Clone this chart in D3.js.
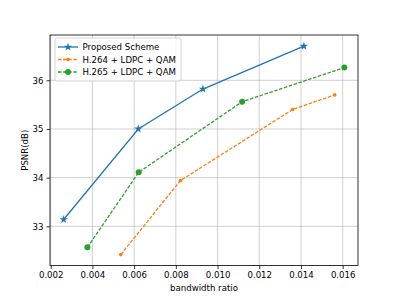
<!DOCTYPE html>
<html>
<head>
<meta charset="utf-8">
<script src="https://cdn.jsdelivr.net/npm/d3@7"></script>
<style>
  body { margin: 0; background: #fff; }
  svg text { font-family: "DejaVu Sans", sans-serif; fill: #000; }
</style>
</head>
<body>
<div id="chart"></div>
<script>
// data
const proposedX = [0.00262, 0.0062, 0.0093, 0.01414];
const proposedY = [33.14, 35.0, 35.82, 36.70];
const h264X = [0.00536, 0.00822, 0.0136, 0.01562];
const h264Y = [32.42, 33.94, 35.40, 35.70];
const h265X = [0.00376, 0.00622, 0.01118, 0.01608];
const h265Y = [32.57, 34.11, 35.56, 36.26];
const xTicks = [0.002, 0.004, 0.006, 0.008, 0.010, 0.012, 0.014, 0.016];
const yTicks = [33, 34, 35, 36];

const series = [
    {name: "Proposed Scheme", xs: proposedX, ys: proposedY, color: "#1f77b4", dash: null, marker: "star"},
    {name: "H.264 + LDPC + QAM", xs: h264X, ys: h264Y, color: "#ff7f0e", dash: "3.5,1.6", marker: "point"},
    {name: "H.265 + LDPC + QAM", xs: h265X, ys: h265Y, color: "#2ca02c", dash: "3.5,1.6", marker: "circle"}
];

const W = 398, H = 299;
const margin = {top: 35, right: 40, bottom: 33.5, left: 50};
const width = W - margin.left - margin.right;
const height = H - margin.top - margin.bottom;

const svg = d3.select("#chart").append("svg")
    .attr("width", W)
    .attr("height", H);

const g = svg.append("g")
    .attr("transform", `translate(${margin.left},${margin.top})`);

const x = d3.scaleLinear().domain([0.001966, 0.016735]).range([0, width]);
const y = d3.scaleLinear().domain([32.196, 36.93]).range([height, 0]);

// grid
g.append("g").selectAll("line")
    .data(xTicks).enter().append("line")
    .attr("x1", d => x(d)).attr("x2", d => x(d))
    .attr("y1", 0).attr("y2", height)
    .attr("stroke", "#b0b0b0").attr("stroke-opacity", 0.6).attr("stroke-width", 1);

g.append("g").selectAll("line")
    .data(yTicks).enter().append("line")
    .attr("x1", 0).attr("x2", width)
    .attr("y1", d => y(d)).attr("y2", d => y(d))
    .attr("stroke", "#b0b0b0").attr("stroke-opacity", 0.6).attr("stroke-width", 1);

// axes
const xAxis = g.append("g")
    .attr("transform", `translate(0,${height})`)
    .call(d3.axisBottom(x).tickValues(xTicks).tickFormat(d3.format(".3f")).tickSize(3.5).tickPadding(3));
const yAxis = g.append("g")
    .call(d3.axisLeft(y).tickValues(yTicks).tickFormat(d3.format("d")).tickSize(3.5).tickPadding(3));

[xAxis, yAxis].forEach(a => {
    a.select(".domain").remove();
    a.selectAll("text").style("font-size", "8.6px").attr("fill", "#000");
    a.selectAll("line").attr("stroke", "#000").attr("stroke-width", 0.8);
});

g.append("rect")
    .attr("width", width).attr("height", height)
    .attr("fill", "none").attr("stroke", "#000").attr("stroke-width", 0.8);

// labels
g.append("text")
    .attr("x", width / 2).attr("y", height + 25)
    .attr("text-anchor", "middle")
    .style("font-size", "8.6px")
    .text("bandwidth ratio");

g.append("text")
    .attr("transform", `translate(${-22},${height / 2}) rotate(-90)`)
    .attr("text-anchor", "middle")
    .style("font-size", "8.6px")
    .text("PSNR(dB)");

const line = d3.line().x(d => x(d[0])).y(d => y(d[1]));

function drawMarker(sel, type, color) {
    if (type === "star") {
        sel.append("path")
            .attr("d", d3.symbol().type(d3.symbolStar).size(22))
            .attr("fill", color);
    } else if (type === "circle") {
        sel.append("circle").attr("r", 3).attr("fill", color);
    } else {
        sel.append("circle").attr("r", 1.8).attr("fill", color);
    }
}

series.forEach(s => {
    const pts = s.xs.map((v, i) => [v, s.ys[i]]);
    g.append("path")
        .datum(pts)
        .attr("fill", "none")
        .attr("stroke", s.color)
        .attr("stroke-width", 1.3)
        .attr("stroke-dasharray", s.dash)
        .attr("d", line);
    const m = g.append("g").selectAll("g")
        .data(pts).enter().append("g")
        .attr("transform", d => `translate(${x(d[0])},${y(d[1])})`);
    drawMarker(m, s.marker, s.color);
});

// legend
const legend = g.append("g").attr("transform", "translate(5,3)");
legend.append("rect")
    .attr("width", 126).attr("height", 43).attr("rx", 2)
    .attr("fill", "#fff").attr("fill-opacity", 0.8)
    .attr("stroke", "#ccc").attr("stroke-width", 0.8);

series.forEach((s, i) => {
    const ly = 9 + i * 12.5;
    const item = legend.append("g").attr("transform", `translate(0,${ly})`);
    item.append("line")
        .attr("x1", 3).attr("x2", 23)
        .attr("stroke", s.color).attr("stroke-width", 1.3)
        .attr("stroke-dasharray", s.dash);
    const mk = item.append("g").attr("transform", "translate(13,0)");
    drawMarker(mk, s.marker, s.color);
    item.append("text")
        .attr("x", 27.5).attr("dy", "0.35em")
        .style("font-size", "8.6px")
        .text(s.name);
});
</script>
</body>
</html>
